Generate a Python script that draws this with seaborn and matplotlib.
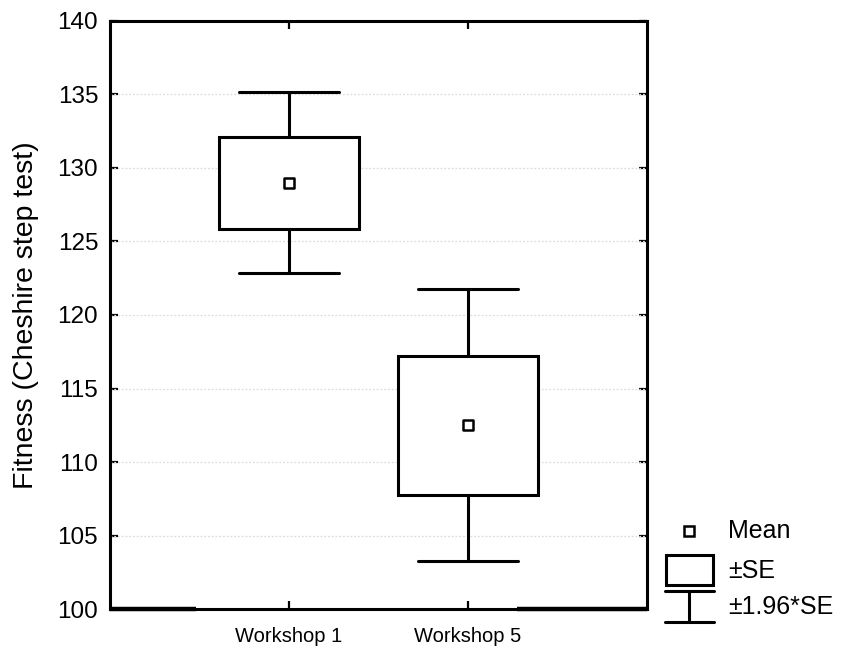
import matplotlib
matplotlib.use("Agg")
import matplotlib.pyplot as plt
from matplotlib.patches import Rectangle
from matplotlib.lines import Line2D
import seaborn as sns
import pandas as pd
import numpy as np

# Group summaries: mean and standard error of the Cheshire step test score
groups = ["Workshop 1", "Workshop 5"]
means = [129.0, 112.5]
std_errors = [3.13, 4.72]
yticks = [100, 105, 110, 115, 120, 125, 130, 135, 140]

sns.set_theme(style="white")
plt.rcParams["font.family"] = ["Liberation Sans", "DejaVu Sans"]
plt.rcParams["text.color"] = "black"
plt.rcParams["axes.labelcolor"] = "black"
plt.rcParams["xtick.color"] = "black"
plt.rcParams["ytick.color"] = "black"

df = pd.DataFrame({"group": groups, "mean": means, "se": std_errors})
df["pos"] = np.arange(1, len(groups) + 1)

fig = plt.figure(figsize=(8.45, 6.47), dpi=100)
ax = fig.add_axes([110 / 845, 1 - 609.3 / 647, 537 / 845, 588.6 / 647])

LW = 2.2

# +-SE boxes and +-1.96*SE whiskers from precomputed statistics
stats = []
for _, r in df.iterrows():
    stats.append({
        "label": r["group"],
        "mean": r["mean"],
        "med": r["mean"],
        "q1": r["mean"] - r["se"],
        "q3": r["mean"] + r["se"],
        "whislo": r["mean"] - 1.96 * r["se"],
        "whishi": r["mean"] + 1.96 * r["se"],
        "fliers": [],
    })
ax.bxp(stats, positions=df["pos"], widths=0.78, capwidths=0.56,
       patch_artist=True, showmeans=False, showfliers=False,
       boxprops=dict(facecolor="white", edgecolor="black", linewidth=LW),
       whiskerprops=dict(color="black", linewidth=LW),
       capprops=dict(color="black", linewidth=LW),
       medianprops=dict(linewidth=0), zorder=3)

# Mean markers
sns.scatterplot(data=df, x="pos", y="mean", marker="s", s=46, color="white",
                edgecolor="black", linewidth=1.8, zorder=5, ax=ax, legend=False)

ax.set_xlim(0, 3)
ax.set_ylim(100, 140)
ax.set_yticks(yticks)
ax.set_yticklabels([str(t) for t in yticks])
ax.set_xticks(df["pos"])
ax.set_xticklabels(groups, fontsize=14.5)
ax.set_xlabel("")
ax.set_ylabel("Fitness (Cheshire step test)", fontsize=20.5)
ax.yaxis.set_label_coords(-0.132, 0.5)

ax.tick_params(axis="y", direction="in", length=6, width=1.6, labelsize=17.5,
               pad=8.5, left=True, right=True, labelleft=True, labelright=False)
ax.tick_params(axis="x", direction="in", length=5.5, width=1.6, pad=13,
               bottom=True, top=True)

for s in ax.spines.values():
    s.set_visible(True)
    s.set_linewidth(LW)
    s.set_color("black")

# heavier stubs at both ends of the bottom axis line
ax.plot([0, 0.16], [0, 0], transform=ax.transAxes, color="black", lw=3.2,
        clip_on=False, zorder=6, solid_capstyle="butt")
ax.plot([0.758, 1], [0, 0], transform=ax.transAxes, color="black", lw=3.2,
        clip_on=False, zorder=6, solid_capstyle="butt")

# faint dotted horizontal grid
for t in yticks[1:-1]:
    ax.axhline(t, color="#dcdcdc", lw=0.9, ls=(0, (1.5, 1.5)), zorder=1)
ax.grid(False)

# Key to the symbols, drawn in figure pixels
lg = fig.add_axes([0, 0, 1, 1], facecolor="none")
lg.set_xlim(0, 845)
lg.set_ylim(647, 0)
lg.axis("off")
lg.plot([689], [531], marker="s", ms=6.5, mfc="white", mec="black", mew=1.8)
lg.add_patch(Rectangle((666, 555), 47, 30, fill=False, edgecolor="black", lw=LW))
lg.add_line(Line2D([665, 714], [591, 591], color="black", lw=LW))
lg.add_line(Line2D([689, 689], [591, 622], color="black", lw=LW))
lg.add_line(Line2D([665, 714], [622, 622], color="black", lw=LW))
lg.text(728, 531, "Mean", fontsize=18, va="center", ha="left")
lg.text(728, 571, "\u00b1SE", fontsize=18, va="center", ha="left")
lg.text(728, 607, "\u00b11.96*SE", fontsize=18, va="center", ha="left")

fig.savefig("out.png", dpi=100)
